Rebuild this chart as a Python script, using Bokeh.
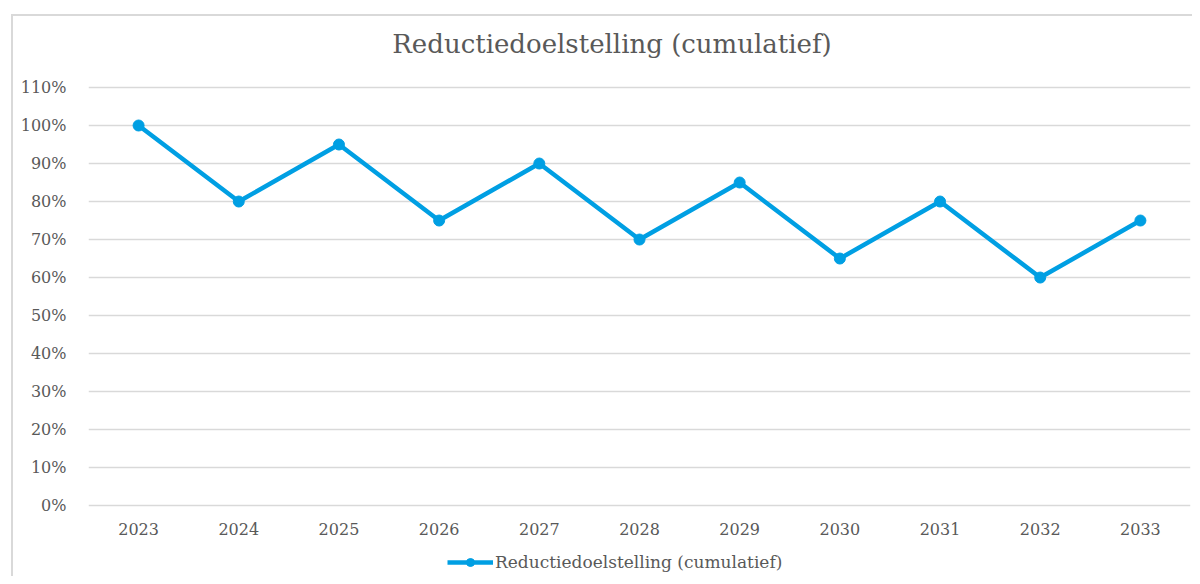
from bokeh.plotting import figure
from bokeh.layouts import column
from bokeh.models import (Legend, LegendItem, NumeralTickFormatter, FixedTicker,
                          Range1d, FactorRange)
from bokeh.core.properties import value
from bokeh.embed import file_html
from bokeh.resources import INLINE

years = ["2023", "2024", "2025", "2026", "2027", "2028", "2029", "2030", "2031", "2032", "2033"]
values = [1.00, 0.80, 0.95, 0.75, 0.90, 0.70, 0.85, 0.65, 0.80, 0.60, 0.75]
y_ticks = [0.0, 0.1, 0.2, 0.3, 0.4, 0.5, 0.6, 0.7, 0.8, 0.9, 1.0, 1.1]
series_name = "Reductiedoelstelling (cumulatief)"
title_text = "Reductiedoelstelling (cumulatief)"

FONT = "DejaVu Serif"
GRAY = "#595959"
BLUE = "#009FE3"

# main chart (title drawn inside the extended frame above the 110% line)
p = figure(width=1179, height=524, x_range=FactorRange(*years, range_padding=0),
           y_range=Range1d(-0.005, 1.2605), output_backend="svg", toolbar_location=None,
           min_border_left=75, min_border_right=2, min_border_top=10, min_border_bottom=33)
p.outline_line_color = None

p.xgrid.grid_line_color = None
p.ygrid.grid_line_color = "#d9d9d9"
p.ygrid.grid_line_width = 1.5
p.ygrid.ticker = FixedTicker(ticks=y_ticks)

p.yaxis.ticker = FixedTicker(ticks=y_ticks)
p.yaxis.formatter = NumeralTickFormatter(format="0%")
for ax in (p.xaxis[0], p.yaxis[0]):
    ax.axis_line_color = None
    ax.major_tick_line_color = None
    ax.minor_tick_line_color = None
    ax.major_label_text_font = FONT
    ax.major_label_text_font_size = "16px"
    ax.major_label_text_color = GRAY
p.yaxis.major_label_standoff = 16
p.xaxis.major_label_standoff = 9

p.line(years, values, line_color=BLUE, line_width=4.5, line_join="round")
p.scatter(years, values, size=11, fill_color=BLUE, line_color=BLUE)

p.text(x=[years[5]], y=[1.2132], text=[title_text], text_align="center",
       text_baseline="middle", text_font=value(FONT), text_font_size="26px",
       text_color=GRAY, x_offset=-27.5)

# legend strip below the chart
lp = figure(width=1179, height=36, x_range=FactorRange(*years), y_range=Range1d(10, 11),
            output_backend="svg", toolbar_location=None, min_border=0,
            x_axis_location=None, y_axis_location=None)
lp.outline_line_color = None
lp.grid.visible = False
lln = lp.line(years, values, line_color=BLUE, line_width=4.5)
lci = lp.scatter(years, values, size=11, fill_color=BLUE, line_color=BLUE)
legend = Legend(items=[LegendItem(label=series_name, renderers=[lln, lci])],
                location=(359, 4), orientation="horizontal",
                label_text_font=FONT, label_text_font_size="17px", label_text_color=GRAY,
                glyph_width=46, glyph_height=20, label_standoff=2, border_line_color=None,
                background_fill_alpha=0, padding=0, margin=0, spacing=0)
lp.add_layout(legend)

layout = column(p, lp, spacing=0, margin=(14, 0, 0, 11),
                styles={"border-left": "2px solid #d9d9d9", "border-top": "2px solid #d9d9d9"})

open("out.html", "w").write(file_html(layout, INLINE))
